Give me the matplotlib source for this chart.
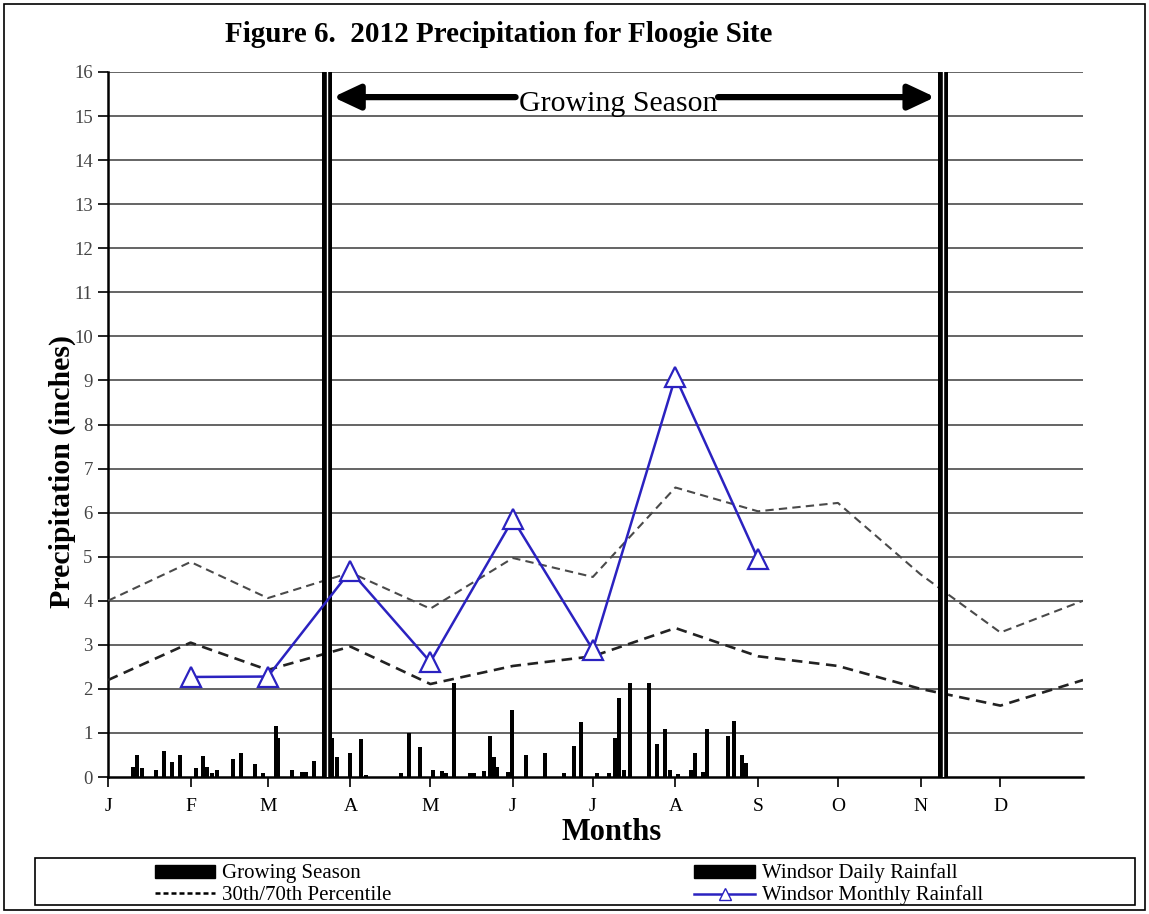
import matplotlib
matplotlib.use("Agg")
import matplotlib.pyplot as plt
from matplotlib.patches import Patch, Rectangle
from matplotlib.lines import Line2D

# ---------------- data ----------------
month_labels = ['J', 'F', 'M', 'A', 'M', 'J', 'J', 'A', 'S', 'O', 'N', 'D']
month_start_days = [0, 31, 60, 91, 121, 152, 182, 213, 244, 274, 305, 335]
year_days = 366

pct_days = [0, 31, 60, 91, 121, 152, 182, 213, 244, 274, 305, 335, 366]
pct70 = [4.0, 4.88, 4.06, 4.64, 3.82, 4.97, 4.54, 6.57, 6.03, 6.22, 4.6, 3.28, 4.0]
pct30 = [2.2, 3.05, 2.43, 2.96, 2.11, 2.52, 2.74, 3.38, 2.74, 2.52, 2.0, 1.62, 2.2]

monthly_days = [31, 60, 91, 121, 152, 182, 213, 244]
monthly_rain = [2.27, 2.28, 4.68, 2.61, 5.85, 2.89, 9.08, 4.95]

daily_days = [9.5, 11, 12.7, 18, 21, 24, 27, 33, 35.5, 37, 39, 41, 47, 50, 55, 58,
              63, 64, 69, 73, 74.5, 77.5, 84, 86, 91, 95, 97, 110, 113, 117, 122,
              125.5, 127, 130, 136, 137.5, 141, 143.5, 145, 146, 150, 151.5, 157,
              164, 171, 175, 177.5, 183.5, 188, 190.5, 192, 193.6, 196, 203, 206,
              209, 211, 214, 219, 220.5, 223.5, 224.8, 232.6, 235, 238, 239.5]
daily_rain = [0.23, 0.5, 0.2, 0.16, 0.6, 0.33, 0.5, 0.2, 0.48, 0.23, 0.08, 0.16,
              0.4, 0.55, 0.3, 0.1, 1.16, 0.88, 0.16, 0.12, 0.12, 0.37, 0.88, 0.45,
              0.54, 0.86, 0.05, 0.08, 1.0, 0.67, 0.16, 0.14, 0.08, 2.14, 0.08, 0.08,
              0.14, 0.92, 0.45, 0.23, 0.12, 1.52, 0.5, 0.54, 0.1, 0.7, 1.24, 0.1,
              0.08, 0.88, 1.79, 0.17, 2.13, 2.13, 0.76, 1.08, 0.16, 0.07, 0.16,
              0.54, 0.12, 1.08, 0.93, 1.26, 0.5, 0.31]

growing_season_days = [82.2, 313.3]
y_ticks = list(range(0, 17))

# ---------------- figure ----------------
plt.rcParams['font.family'] = ['Liberation Serif', 'DejaVu Serif']
fig = plt.figure(figsize=(11.49, 9.14), dpi=100)
ax = fig.add_axes([108/1149, 1-777/914, (1083-108)/1149, (777-72)/914])

ax.set_xlim(0, year_days)
ax.set_ylim(0, 16)

# gridlines
for yv in y_ticks[1:]:
    ax.axhline(yv, color='#3a3a3a', lw=1.1, zorder=1)

# daily bars
ax.bar(daily_days, daily_rain, width=1.5, color='black', zorder=3)

# percentiles
ax.plot(pct_days, pct70, color='#4a4a4a', lw=1.5, ls=(0, (4, 2.5)), zorder=4)
ax.plot(pct_days, pct30, color='#222222', lw=1.9, ls=(0, (4, 2.5)), zorder=4)

# growing season lines
for d in growing_season_days:
    ax.axvline(d, color='black', lw=7.2, zorder=5)
    ax.axvline(d, color='white', lw=1.0, zorder=6)

# monthly rainfall
ax.plot(monthly_days, monthly_rain, color='#2b22c0', lw=1.8, marker='^',
        markersize=14, markerfacecolor='white', markeredgecolor='#2b22c0',
        markeredgewidth=1.6, zorder=7)

# Growing season annotation
arrow_style = '-|>,head_length=1.6,head_width=0.75'
ax.annotate('', xy=(84.5, 15.43), xytext=(153, 15.43),
            arrowprops=dict(arrowstyle=arrow_style, color='black', lw=4.5,
                            shrinkA=0, shrinkB=0), zorder=8)
ax.annotate('', xy=(310.5, 15.43), xytext=(229, 15.43),
            arrowprops=dict(arrowstyle=arrow_style, color='black', lw=4.5,
                            shrinkA=0, shrinkB=0), zorder=8)
ax.text(191.5, 15.27, 'Growing Season', ha='center', va='center', fontsize=21.5,
        zorder=9)

# axes styling
ax.set_xticks(month_start_days)
ax.set_xticklabels(month_labels, fontsize=14)
ax.set_yticks(y_ticks)
ax.set_yticklabels([str(v) for v in y_ticks], fontsize=13.5)
ax.tick_params(axis='both', direction='out', length=7, width=1.2, colors='black')
for lab in ax.get_yticklabels():
    lab.set_color('#444444')
ax.tick_params(axis='x', pad=8)
ax.tick_params(axis='y', pad=4)
ax.spines['top'].set_visible(False)
ax.spines['right'].set_visible(False)
ax.spines['left'].set_linewidth(1.8)
ax.spines['bottom'].set_linewidth(1.8)

ax.set_xlabel('Months', fontsize=22, fontweight='bold')
ax.xaxis.set_label_coords((612-108)/975, -(833-777)/705)
ax.xaxis.label.set_va('center')
ax.set_ylabel('Precipitation (inches)', fontsize=21.5, fontweight='bold')
ax.yaxis.set_label_coords((62-108)/975, (777-471)/705)
ax.yaxis.label.set_va('center')

fig.text(499/1149, 1-35/914, 'Figure 6.  2012 Precipitation for Floogie Site',
         ha='center', va='center', fontsize=21, fontweight='bold')

# figure border
fig.patches.append(Rectangle((4/1149, 4/914), 1141/1149, 906/914, transform=fig.transFigure,
                             fill=False, edgecolor='black', lw=1.2))
# legend box
fig.patches.append(Rectangle((35/1149, 1-905/914), 1100/1149, 47/914, transform=fig.transFigure,
                             fill=False, edgecolor='black', lw=1.2))

handles = [Patch(facecolor='black', edgecolor='black'),
           Line2D([], [], color='black', lw=1.8, ls=(0, (2, 1.2))),
           Patch(facecolor='black', edgecolor='black'),
           Line2D([], [], color='#2b22c0', lw=1.8, marker='^', markersize=9,
                  markerfacecolor='white', markeredgecolor='#2b22c0')]
labels = ['Growing Season', '30th/70th Percentile', 'Windsor Daily Rainfall',
          'Windsor Monthly Rainfall']
fig.legend(handles, labels, loc='upper left', bbox_to_anchor=(140/1149, 1-849/914),
           ncol=2, frameon=False, fontsize=15, handlelength=2.9, handleheight=0.6,
           handletextpad=0.33, columnspacing=14.55, labelspacing=0.1,
           borderpad=0.2)

fig.savefig('out.png', dpi=100)
